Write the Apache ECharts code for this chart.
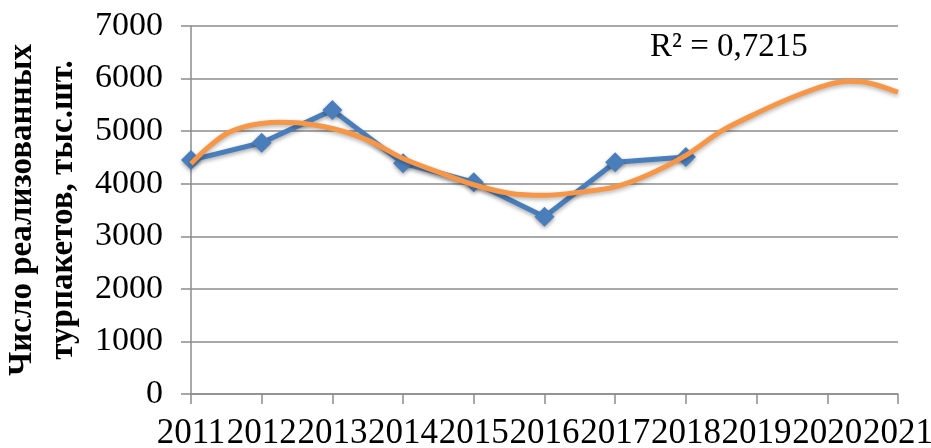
<!DOCTYPE html>
<html>
<head>
<meta charset="utf-8">
<script src="https://cdn.jsdelivr.net/npm/echarts@6/dist/echarts.min.js"></script>
<style>
  html, body { margin: 0; padding: 0; background: #fff; }
  #chart { width: 931px; height: 448px; }
</style>
</head>
<body>
<div id="chart"></div>
<script>
  // actual sales, thousands of tour packages
  var years = [2011, 2012, 2013, 2014, 2015, 2016, 2017, 2018];
  var sales = [4450, 4780, 5400, 4390, 4030, 3370, 4410, 4510];

  // polynomial trendline
  var trendYears = [2011, 2011.25, 2011.5, 2011.75, 2012, 2012.25, 2012.5, 2013, 2013.5, 2014, 2014.5, 2015, 2015.5,
    2016, 2016.5, 2017, 2017.5, 2018, 2018.5, 2019, 2019.5, 2020, 2020.3, 2020.5, 2021];
  var trendValues = [4380, 4700, 4950, 5080, 5145, 5170, 5160, 5050, 4830, 4480, 4220, 3980, 3820,
    3780, 3840, 3940, 4190, 4540, 5000, 5340, 5640, 5880, 5950, 5940, 5740];

  var yTicks = [0, 1000, 2000, 3000, 4000, 5000, 6000, 7000];
  var r2Label = 'R² = 0,7215';

  function pairs(xs, ys) {
    return xs.map(function (x, i) { return [x, ys[i]]; });
  }

  var gray = '#8c8c8c';
  var font = '"Liberation Serif", "Times New Roman", serif';

  var chart = echarts.init(document.getElementById('chart'));

  var option = {
    animation: false,
    grid: { left: 191, right: 33, top: 26, bottom: 54, containLabel: false, outerBoundsMode: 'none' },
    xAxis: {
      type: 'value',
      min: 2011,
      max: 2021,
      interval: 1,
      axisLine: { lineStyle: { color: gray, width: 1.5 } },
      axisTick: { show: true, length: 10, lineStyle: { color: gray, width: 1.5 } },
      splitLine: { show: false },
      axisLabel: {
        margin: 22,
        fontFamily: font,
        fontSize: 35,
        color: '#000',
        showMinLabel: true,
        showMaxLabel: true,
        hideOverlap: false,
        formatter: function (v) { return String(v); }
      }
    },
    yAxis: {
      type: 'value',
      min: yTicks[0],
      max: yTicks[yTicks.length - 1],
      interval: 1000,
      name: 'Число реализованных\nтурпакетов, тыс.шт.',
      nameLocation: 'middle',
      nameRotate: 90,
      nameGap: 101,
      nameTextStyle: {
        fontFamily: font,
        fontWeight: 'bold',
        fontSize: 33,
        lineHeight: 41,
        color: '#000'
      },
      axisLine: { show: true, lineStyle: { color: gray, width: 1.5 } },
      axisTick: { show: true, length: 10, lineStyle: { color: gray, width: 1.5 } },
      splitLine: { lineStyle: { color: gray, width: 1.5 } },
      axisLabel: {
        margin: 28,
        fontFamily: font,
        fontSize: 34,
        color: '#000',
        formatter: function (v) { return String(v); }
      }
    },
    graphic: [{
      type: 'text',
      left: 650,
      top: 31,
      style: {
        text: r2Label,
        fontFamily: font,
        fontSize: 33,
        fill: '#000'
      }
    }],
    series: [
      {
        name: 'Продажи',
        type: 'line',
        data: pairs(years, sales),
        symbol: 'diamond',
        symbolSize: 20,
        itemStyle: {
          color: '#4a7ebb',
          shadowColor: 'rgba(0,0,0,0.35)',
          shadowBlur: 4,
          shadowOffsetY: 2
        },
        lineStyle: {
          color: '#4a7ebb',
          width: 5,
          shadowColor: 'rgba(0,0,0,0.35)',
          shadowBlur: 4,
          shadowOffsetY: 2
        },
        z: 2
      },
      {
        name: 'Тренд',
        type: 'line',
        data: pairs(trendYears, trendValues),
        smooth: 0.3,
        showSymbol: false,
        lineStyle: {
          color: '#f79646',
          width: 5,
          shadowColor: 'rgba(0,0,0,0.3)',
          shadowBlur: 4,
          shadowOffsetY: 2
        },
        z: 3
      }
    ]
  };

  chart.setOption(option);
</script>
</body>
</html>
